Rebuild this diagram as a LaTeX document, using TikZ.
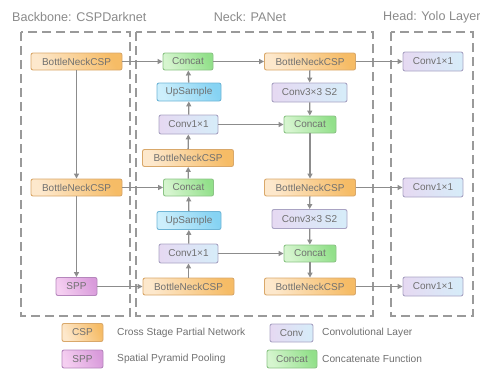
\documentclass[tikz,border=0pt]{standalone}
\usepackage{fontspec}
\setmainfont{Liberation Sans}
\usetikzlibrary{arrows.meta}
\definecolor{txt}{HTML}{707070}
\definecolor{ttl}{HTML}{8A8A8A}
\definecolor{dash}{HTML}{9A9A9A}
\definecolor{arr}{HTML}{8C8C8C}
\definecolor{orL}{HTML}{FDE8CC}\definecolor{orR}{HTML}{F6BC66}\definecolor{orB}{HTML}{D9A86A}
\definecolor{grL}{HTML}{D6F5CF}\definecolor{grR}{HTML}{92E08A}\definecolor{grB}{HTML}{8CC486}
\definecolor{blL}{HTML}{CDEFFC}\definecolor{blR}{HTML}{86D3F3}\definecolor{blB}{HTML}{6FB5D6}
\definecolor{cvL}{HTML}{E6D9F2}\definecolor{cvR}{HTML}{D6EDF9}\definecolor{cvB}{HTML}{A9A3C3}
\definecolor{spL}{HTML}{F5CFF1}\definecolor{spR}{HTML}{D99BDB}\definecolor{spB}{HTML}{B586BC}
\tikzset{
  blk/.style={rounded corners=2pt, inner sep=0pt, text=txt, font=\fontsize{10}{12}\selectfont, line width=0.9pt, minimum height=17pt},
  csp/.style={blk, draw=orB, left color=orL, right color=orR, shading angle=115, minimum width=91pt},
  cat/.style={blk, draw=grB, left color=grL, right color=grR, shading angle=115, minimum width=50pt},
  ups/.style={blk, draw=blB, left color=blL, right color=blR, shading angle=115, minimum width=64pt, minimum height=18pt},
  cnv/.style={blk, draw=cvB, left color=cvL, right color=cvR, minimum width=59pt, minimum height=19pt},
  spp/.style={blk, draw=spB, left color=spL, right color=spR, shading angle=115, minimum width=41pt, minimum height=18pt},
  frame/.style={draw=dash, line width=1.3pt, dash pattern=on 9pt off 5pt},
  title/.style={text=ttl, font=\fontsize{12.6}{14}\selectfont, inner sep=0pt},
  legtxt/.style={text=txt, font=\fontsize{10.2}{12}\selectfont, inner sep=0pt, anchor=west},
  conn/.style={draw=arr, line width=1.3pt, -{Triangle[length=5pt,width=5pt]}}
}
\begin{document}
\begin{tikzpicture}[x=1pt,y=-1pt]
\useasboundingbox (0,0) rectangle (480,368);
% frames
\draw[frame] (21,32) rectangle (130,316);
\draw[frame] (136,32) rectangle (373,316);
\draw[frame] (391,32) rectangle (473,316);
% titles
\node[title, anchor=west] (tb) at (12,17) {Backbone: CSPDarknet};
\node[title] (tn) at (250,17) {Neck: PANet};
\node[title, anchor=west] (th) at (383,17) {Head: Yolo Layer};
% backbone
\node[csp] (b1) at (76.5,61.5) {BottleNeckCSP};
\node[csp] (b2) at (76.5,187.5) {BottleNeckCSP};
\node[spp] (sp) at (76.5,286.5) {SPP};
% neck column 1
\node[cat] (c1) at (188,61.5) {Concat};
\node[ups] (u1) at (189,92) {UpSample};
\node[cnv] (k1) at (188.5,124.5) {Conv1×1};
\node[csp] (n1) at (188,158) {BottleNeckCSP};
\node[cat] (c2) at (188.5,187.5) {Concat};
\node[ups] (u2) at (189,220.5) {UpSample};
\node[cnv] (k2) at (188.5,253.5) {Conv1×1};
\node[csp] (n2) at (188.5,286.5) {BottleNeckCSP};
% neck column 2
\node[csp] (p1) at (310,61.5) {BottleNeckCSP};
\node[cnv, minimum width=75pt] (s1) at (309.5,92.5) {Conv3×3 S2};
\node[cat, minimum width=52pt] (q1) at (310,124.5) {Concat};
\node[csp] (p2) at (310,187.5) {BottleNeckCSP};
\node[cnv, minimum width=75pt] (s2) at (309.5,219) {Conv3×3 S2};
\node[cat, minimum width=52pt] (q2) at (310,253.5) {Concat};
\node[csp] (p3) at (310,286.5) {BottleNeckCSP};
% head
\node[cnv, minimum width=60pt] (h1) at (433,61.5) {Conv1×1};
\node[cnv, minimum width=60pt] (h2) at (433,187.5) {Conv1×1};
\node[cnv, minimum width=60pt] (h3) at (433,286.5) {Conv1×1};
% connectors backbone
\draw[conn] (b1) -- (b2);
\draw[conn] (b2) -- (sp);
\draw[conn] (b1) -- (c1);
\draw[conn] (b2) -- (c2);
\draw[conn] (sp) -- (n2);
% neck column 1 upward
\draw[conn] (n2) -- (k2);
\draw[conn] (k2) -- (u2);
\draw[conn] (u2) -- (c2);
\draw[conn] (c2) -- (n1);
\draw[conn] (n1) -- (k1);
\draw[conn] (k1) -- (u1);
\draw[conn] (u1) -- (c1);
% across
\draw[conn] (c1) -- (p1);
\draw[conn] (k1) -- (q1);
\draw[conn] (k2) -- (q2);
% column 2 downward
\draw[conn] (p1) -- (s1);
\draw[conn] (s1) -- (q1);
\draw[conn] (q1) -- (p2);
\draw[conn] (p2) -- (s2);
\draw[conn] (s2) -- (q2);
\draw[conn] (q2) -- (p3);
% head
\draw[conn] (p1) -- (h1);
\draw[conn] (p2) -- (h2);
\draw[conn] (p3) -- (h3);
% legend
\node[csp, minimum width=41pt, minimum height=18pt] (lc) at (82.5,332.5) {CSP};
\node[legtxt] (lct) at (117,332.5) {Cross Stage Partial Network};
\node[spp] (ls) at (82.5,359) {SPP};
\node[legtxt] (lst) at (117,359) {Spatial Pyramid Pooling};
\node[cnv, minimum width=43pt, minimum height=18pt] (lk) at (291.5,333) {Conv};
\node[legtxt] (lkt) at (322,333) {Convolutional Layer};
\node[cat, minimum height=18pt] (lq) at (292,359) {Concat};
\node[legtxt] (lqt) at (322,359) {Concatenate Function};
\end{tikzpicture}
\end{document}
